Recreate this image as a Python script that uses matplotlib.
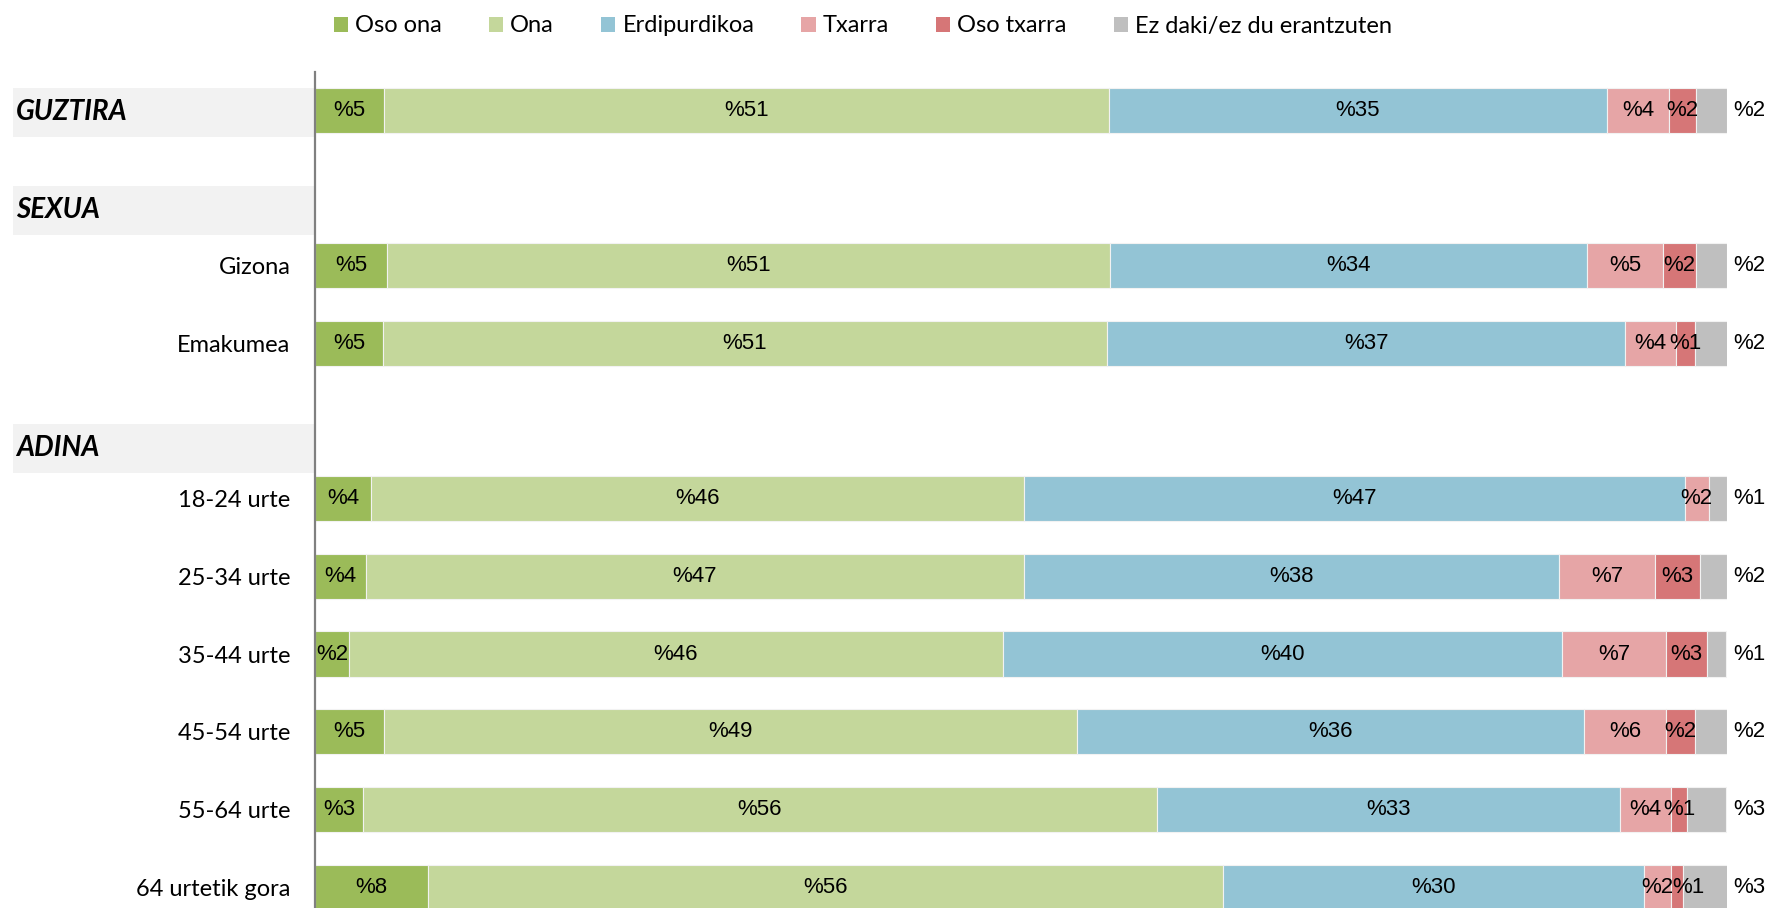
import matplotlib.pyplot as plt
import matplotlib.transforms as mtransforms
from matplotlib.patches import Patch, Rectangle

# Datuak (ehunekoak)
rows = ['GUZTIRA', '', 'Gizona', 'Emakumea', '', '18-24 urte', '25-34 urte',
        '35-44 urte', '45-54 urte', '55-64 urte', '64 urtetik gora']
series = ['Oso ona', 'Ona', 'Erdipurdikoa', 'Txarra', 'Oso txarra', 'Ez daki/ez du erantzuten']

oso_ona    = [4.9, None, 5.1, 4.8, None, 4.0, 3.6, 2.4, 4.9, 3.4, 8.0]
ona        = [51.3, None, 51.2, 51.3, None, 46.2, 46.6, 46.3, 49.1, 56.2, 56.3]
erdi       = [35.3, None, 33.8, 36.7, None, 46.8, 37.9, 39.6, 35.9, 32.8, 29.8]
txarra     = [4.4, None, 5.4, 3.6, None, 1.7, 6.8, 7.4, 5.8, 3.6, 1.9]
oso_txarra = [1.9, None, 2.3, 1.3, None, 0.0, 3.2, 2.9, 2.0, 1.2, 0.9]
ez_daki    = [2.2, None, 2.2, 2.4, None, 1.3, 1.9, 1.3, 2.3, 2.7, 3.2]

headers = ['GUZTIRA', 'SEXUA', 'ADINA']
header_pos = [0.03, 1.29, 4.35]

colors = ['#9BBB59', '#C4D79B', '#93C4D5', '#E6A5A6', '#D67677', '#BFBFBF']

W, H = 1787, 908
fig = plt.figure(figsize=(W / 100, H / 100), dpi=100)
# ardatza: ezkerra 315px, eskuina 1727px, goia 72px
ax = fig.add_axes([315 / W, 1 - 926 / H, 1412 / W, 854 / H])
blend = mtransforms.blended_transform_factory(ax.transAxes, ax.transData)

px_per_unit = 1412 / 100
data = [oso_ona, ona, erdi, txarra, oso_txarra, ez_daki]
for i, lab in enumerate(rows):
    if oso_ona[i] is None:
        continue
    left = 0
    prev_right = -10
    for k, vals in enumerate(data):
        v = vals[i]
        if v > 0:
            ax.barh(i, v, left=left, height=0.58, color=colors[k],
                    edgecolor='#F2F2F2', linewidth=0.8)
            txt = f'%{v:.0f}'
            if k < 5:
                # etiketa ez dadin aurrekoaren gainean geratu
                half = len(txt) * 0.70 * 16 * 100 / 72 / 2 / px_per_unit
                xc = max(left + v / 2, prev_right + half)
                prev_right = xc + half
                ax.text(xc, i, txt, ha='center', va='center',
                        fontsize=16, family='Liberation Sans', color='#000000')
            else:
                ax.text(101.6, i, txt, ha='center', va='center',
                        fontsize=16, family='Liberation Sans', color='#000000')
        left += v
    if i != 0:
        ax.text(-0.0175, i, lab, transform=blend, ha='right', va='center_baseline',
                fontsize=17, family='Lato', color='#000000')

for h, y in zip(headers, header_pos):
    ax.add_patch(Rectangle((-0.2138, y - 0.315), 0.2131, 0.63, transform=blend,
                           facecolor='#F2F2F2', edgecolor='none', clip_on=False, zorder=0))
    ax.text(-0.2115, y, h, transform=blend, ha='left', va='center', fontsize=20,
            family='Lato', weight='bold', style='italic', color='#000000')

ax.set_xlim(0, 100)
ax.set_ylim(10.5, -0.49)
ax.set_xticks([])
ax.set_yticks([])
for s in ['top', 'right', 'bottom']:
    ax.spines[s].set_visible(False)
ax.spines['left'].set_color('#808080')
ax.spines['left'].set_linewidth(1.6)

handles = [Patch(facecolor=c, edgecolor='none') for c in colors]
fig.legend(handles, series, loc='center', bbox_to_anchor=(863 / W, 1 - 26 / H), ncol=6,
           frameon=False, prop={'family': 'Lato', 'size': 17}, handlelength=0.6,
           handleheight=0.6, handletextpad=0.3, columnspacing=2.0)

fig.savefig('out.png', dpi=100)
